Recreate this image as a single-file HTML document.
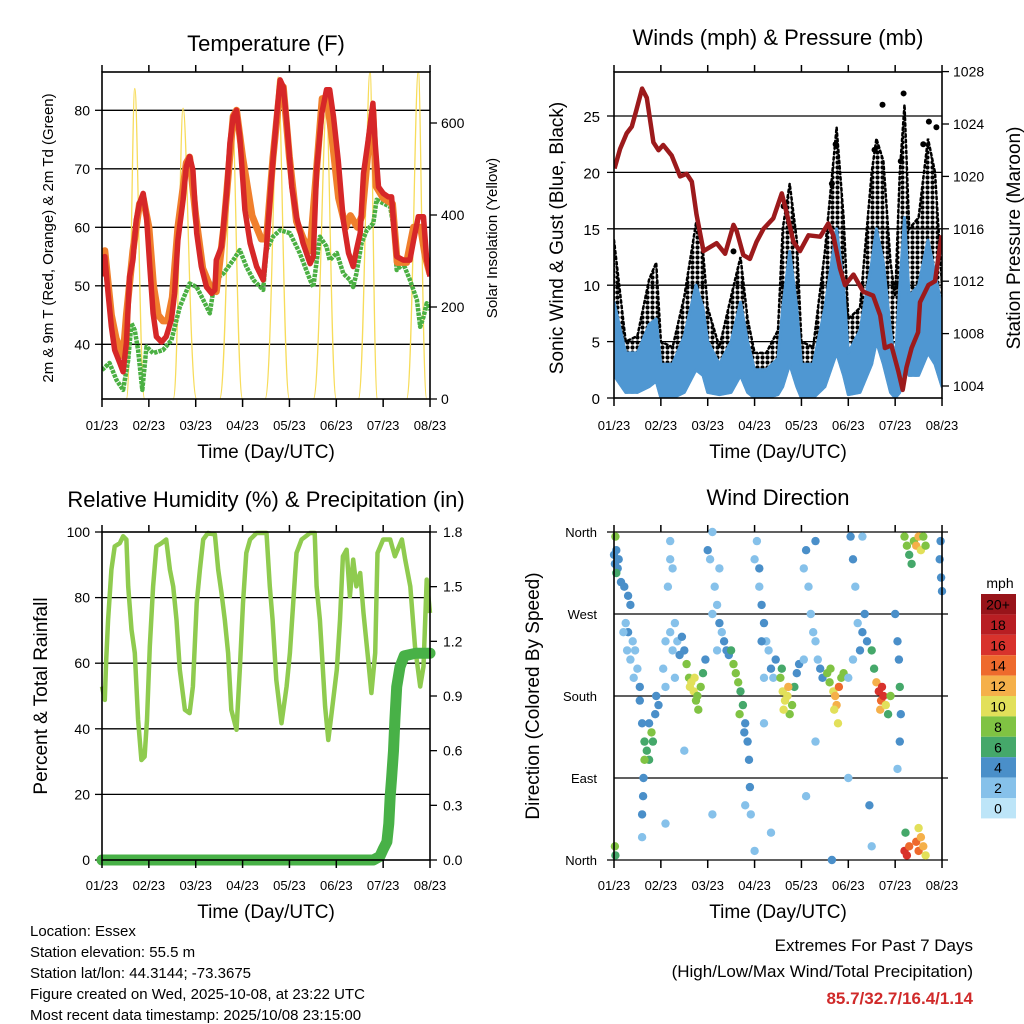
<!DOCTYPE html>
<html><head><meta charset="utf-8">
<style>
html,body{margin:0;padding:0;background:#fff;}
svg{display:block;font-family:"Liberation Sans",Arial,sans-serif;}
</style></head>
<body>
<svg id="fig" width="1024" height="1024" viewBox="0 0 1024 1024" xmlns="http://www.w3.org/2000/svg">
<defs>
<clipPath id="c1"><rect x="102" y="72" width="328" height="327"/></clipPath>
<clipPath id="c2"><rect x="614" y="72" width="328" height="326"/></clipPath>
<clipPath id="c3"><rect x="96" y="526" width="340" height="340"/></clipPath>
<clipPath id="c4"><rect x="608" y="526" width="340" height="340"/></clipPath>
<pattern id="dots" width="5" height="5" patternUnits="userSpaceOnUse"><circle cx="2.5" cy="2.5" r="2.1" fill="#000"/></pattern>
</defs>
<g font-size="22" fill="#000">
<text x="266" y="51" text-anchor="middle">Temperature (F)</text>
<text x="778" y="45" text-anchor="middle">Winds (mph) &amp; Pressure (mb)</text>
<text x="266" y="507" text-anchor="middle">Relative Humidity (%) &amp; Precipitation (in)</text>
<text x="778" y="505" text-anchor="middle">Wind Direction</text>
</g>
<g font-size="19">
<text x="266" y="458" text-anchor="middle">Time (Day/UTC)</text>
<text x="778" y="458" text-anchor="middle">Time (Day/UTC)</text>
<text x="266" y="918" text-anchor="middle">Time (Day/UTC)</text>
<text x="778" y="918" text-anchor="middle">Time (Day/UTC)</text>
<text transform="translate(563,238) rotate(-90)" text-anchor="middle">Sonic Wind &amp; Gust (Blue, Black)</text>
<text transform="translate(1020,238) rotate(-90)" text-anchor="middle">Station Pressure (Maroon)</text>
<text transform="translate(47,696) rotate(-90)" text-anchor="middle">Percent &amp; Total Rainfall</text>
<text transform="translate(539,696) rotate(-90)" text-anchor="middle">Direction (Colored By Speed)</text>
</g>
<g font-size="15">
<text transform="translate(53,238) rotate(-90)" text-anchor="middle">2m &amp; 9m T (Red, Orange) &amp; 2m Td (Green)</text>
<text transform="translate(497,238) rotate(-90)" text-anchor="middle">Solar Insolation (Yellow)</text>
</g>
<g font-size="15">
<text x="30" y="936">Location: Essex</text>
<text x="30" y="957">Station elevation: 55.5 m</text>
<text x="30" y="978">Station lat/lon: 44.3144; -73.3675</text>
<text x="30" y="999">Figure created on Wed, 2025-10-08, at 23:22 UTC</text>
<text x="30" y="1020">Most recent data timestamp: 2025/10/08 23:15:00</text>
</g>
<g font-size="17" text-anchor="end">
<text x="973" y="951">Extremes For Past 7 Days</text>
<text x="973" y="977">(High/Low/Max Wind/Total Precipitation)</text>
<text x="973" y="1004" fill="#d02a2a" font-weight="bold">85.7/32.7/16.4/1.14</text>
</g>
<g id="plots"></g>
</svg>
<script>
// ---------- DATA ----------
const dayLabels=["01/23","02/23","03/23","04/23","05/23","06/23","07/23","08/23"];
const tempTicks=[40,50,60,70,80];
const solarTicks=[0,200,400,600];
const windTicks=[0,5,10,15,20,25];
const presTicks=[1004,1008,1012,1016,1020,1024,1028];
const rhTicks=[0,20,40,60,80,100];
const precipTicks=["0.0","0.3","0.6","0.9","1.2","1.5","1.8"];
const dirLabels=["North","East","South","West","North"];
const speedBins=["0","2","4","6","8","10","12","14","16","18","20+"];

const redT=[0,.06,.13,.2,.27,.38,.45,.52,.59,.66,.73,.8,.88,.95,1.02,1.09,1.16,1.27,1.37,1.48,1.55,1.62,1.73,1.8,1.87,1.94,2.02,2.12,2.23,2.34,2.41,2.44,2.55,2.66,2.73,2.8,2.87,2.94,3.05,3.16,3.3,3.44,3.51,3.62,3.72,3.8,3.87,3.94,4.05,4.15,4.29,4.44,4.51,4.58,4.69,4.79,4.86,4.94,5.04,5.15,5.26,5.36,5.43,5.51,5.58,5.68,5.78,5.83,5.9,6.0,6.11,6.18,6.23,6.29,6.43,6.57,6.65,6.75,6.86,6.93,7.0];
const redV=[51.6,55,48.7,43,39,36.8,35.3,40.2,51.6,54.4,61.2,64.1,65.8,61.8,53.3,45.3,41.3,40.4,41.3,44.2,48.7,57.8,64.7,70.4,72.1,69.8,59,53.3,49.8,48.7,49.3,54.4,56.7,65.8,74.4,78.9,80,75.5,63,57.3,53.3,51,56.7,68.6,78.3,85.2,84,78.3,66.9,61.8,57.3,53.8,55,69.8,79.5,83.5,83.5,78.9,71.5,61.2,55.6,53.3,56.1,59,69.2,74.9,81.2,74.4,66.9,65.8,65.2,65.2,60.1,55,54.4,54.4,57.8,61.8,61.8,54.4,51.6];
const orangeT=[0,.06,.2,.3,.45,.52,.66,.8,.88,1.0,1.1,1.2,1.3,1.4,1.5,1.62,1.8,1.87,2.0,2.15,2.3,2.44,2.6,2.8,2.87,3.0,3.2,3.4,3.51,3.65,3.8,3.87,4.0,4.15,4.3,4.44,4.55,4.7,4.8,4.9,5.05,5.2,5.3,5.45,5.55,5.7,5.78,5.85,6.0,6.2,6.3,6.5,6.65,6.8,6.9,7.0];
const orangeV=[53,56,45,41,38,45,56,64,65,60,50,45,44,44,48,60,71,72,62,53,50,49,60,79,80,72,62,58,58,72,84,84,72,61,58,56,67,82,82,76,65,60,62,60,62,75,80,67,65,64,54,54,60,60,55,52];
const dewT=[0,.16,.31,.45,.56,.63,.7,.77,.86,.95,1.09,1.3,1.48,1.66,1.87,2.02,2.16,2.3,2.41,2.59,2.8,2.94,3.08,3.23,3.44,3.51,3.65,3.8,4.01,4.22,4.44,4.51,4.65,4.79,4.86,5.01,5.15,5.29,5.36,5.43,5.54,5.65,5.79,5.86,6.0,6.15,6.22,6.29,6.43,6.57,6.72,6.79,6.86,6.93,7.0];
const dewV=[35.6,36.8,33.9,32.2,37.3,43.6,42.4,39,32.2,39.6,38.5,39,40.7,46.4,50.4,49.8,47.6,45.3,51,52.1,54.4,56.1,53.3,51,49.3,56.1,58.4,59.5,59,55.6,51,49.8,58.4,56.7,54.4,55.6,52.1,51,49.8,52.1,57.3,59.5,60.7,64.7,64.1,63.5,60.1,52.7,53.8,51,47.6,43,44.7,47,45.9];
const solarRise=[.52,1.52,2.51,3.48,4.51,5.47,6.5];
const solarPeakT=[.70,1.73,2.78,3.76,4.79,5.72,6.75];
const solarSet=[.91,2.02,3.0,4.0,5.0,5.88,6.93];
const solarPeak=[675,632,621,700,630,712,712];

const presT=[.01,.13,.27,.38,.48,.6,.7,.84,.95,1.05,1.23,1.41,1.55,1.66,1.76,1.91,2.05,2.19,2.37,2.55,2.62,2.76,2.9,3.04,3.19,3.4,3.58,3.68,3.83,3.97,4.15,4.4,4.57,4.68,4.82,4.93,5.11,5.32,5.53,5.68,5.78,5.92,6.07,6.16,6.24,6.35,6.49,6.53,6.71,6.85,6.99];
const presV=[1020.6,1022.1,1023.3,1023.8,1025.1,1026.7,1026,1022.6,1022,1022.4,1021.6,1020,1020.2,1019.6,1017.1,1014.3,1014.6,1014.9,1014.1,1016.3,1015.8,1014,1013.7,1015,1016,1016.8,1018.7,1017.3,1015,1014.3,1015.5,1015.4,1016.4,1015.5,1013,1011.7,1012.5,1011.2,1010.9,1009.4,1006.9,1007.1,1005.1,1003.7,1005.4,1006.9,1008.1,1010.4,1011.7,1012,1015.5];
const windT=[0,.25,.5,.75,.9,1.0,1.25,1.5,1.75,1.9,2.0,2.25,2.5,2.7,2.85,3.0,3.25,3.5,3.6,3.75,3.9,4.0,4.25,4.5,4.75,4.9,5.0,5.25,5.5,5.6,5.75,5.9,6.0,6.1,6.2,6.3,6.5,6.7,6.85,7.0];
const windHi=[8.5,4,4,6.5,7,3,3,5.5,10,8,5,3,5,8.5,5,2.5,2.5,3.5,8,13,8,3,3,8,15,10,4,6,12,15,12,6,3,10,16,9,10,14,11,8];
const windLo=[2,.5,.5,1,1.5,0,0,.5,2.5,2,.5,.3,.5,2,.5,0,0,.3,1,3,1,0,0,1,4,2,.3,.5,3,5,3,.5,0,.5,3,2,2,4,3,1];
const gustHi=[14,5,5.5,10.5,12,5,4.5,9,15.5,13,8,4.5,9,12.5,7,4,4,6,15,19,14,5,4.5,13,24,16,7,8,20,23,21,12,9,20,26,15,16,23,20,10];
const gustOutT=[4.73,5.56,5.73,6.12,6.18,6.6,6.72,6.88,2.55,3.62,4.65];
const gustOutV=[22.5,22,26,21,27,22.5,24.5,24,13,17,19];

const rhT=[0,.06,.09,.13,.2,.27,.38,.45,.52,.56,.63,.7,.77,.84,.91,.96,1.02,1.09,1.16,1.27,1.37,1.45,1.52,1.59,1.66,1.77,1.87,1.94,2.02,2.09,2.16,2.26,2.41,2.48,2.55,2.62,2.69,2.76,2.87,2.94,3.01,3.08,3.16,3.3,3.51,3.58,3.64,3.72,3.83,3.94,4.01,4.08,4.15,4.26,4.44,4.54,4.58,4.65,4.76,4.83,4.9,5.01,5.08,5.14,5.22,5.29,5.36,5.43,5.51,5.58,5.68,5.75,5.83,5.88,6.0,6.15,6.25,6.4,6.47,6.58,6.68,6.79,6.86,6.93,7.0];
const rhV=[52.9,48.8,61,73.2,88.5,95.6,96.6,98.7,97.7,83.4,70.2,63.1,42.7,30.5,31.5,42.7,65.1,83.4,95.6,96.6,97.7,88.5,83.4,73.2,58,45.8,44.8,52.9,78.3,88.5,97.7,99.7,99.2,88.5,81.4,73.2,63.1,45.8,39.7,58,78.3,93.6,97.7,99.7,99.7,83.4,73.2,54.9,41.7,52.9,63.1,78.3,93.6,97.7,99.7,99.7,83.4,73.2,46.8,36.6,44.8,58,73.2,92.6,94.6,80.4,91.6,83.4,87.5,75.3,61,50.9,63.1,93.6,97.7,97.7,92.6,97.7,91.6,83.4,65.1,52.9,59,85.5,75.3];
const precipT=[0,1,2,3,4,5,5.79,5.93,6.0,6.08,6.12,6.15,6.18,6.22,6.25,6.29,6.36,6.45,6.7,7.0];
const precipV=[0,0,0,0,0,0,0,.02,.06,.1,.2,.35,.45,.6,.77,.95,1.06,1.12,1.135,1.135];

const dirT=[0,.02,.05,.08,.1,.03,.05,.02,.03,.15,.22,.3,.35,.25,.3,.4,.45,.35,.2,.28,.5,.42,.55,.55,.6,.65,.7,.75,.8,.83,.88,.9,.63,.62,.6,.65,.75,.95,1.05,1.1,1.2,1.25,1.3,1.35,1.15,1.2,1.2,1.25,1.1,1.3,1.4,1.45,1.5,1.55,1.6,1.65,1.7,1.75,1.8,1.85,1.9,1.95,1.62,1.72,1.78,2.05,2.1,2.15,2.2,2.25,2.3,2.35,2.2,2.4,2.1,2.25,2.45,2.0,2.5,2.55,2.6,2.65,2.7,2.75,2.8,2.85,2.88,2.9,2.92,2.68,2.78,3.0,3.05,3.1,3.15,3.2,3.25,3.3,3.35,3.15,3.1,3.4,3.45,3.2,3.55,3.6,3.65,3.7,3.75,3.8,3.85,3.9,3.95,3.58,3.72,3.62,4.05,4.1,4.15,4.2,4.25,4.3,4.35,4.4,4.05,4.3,4.45,4.55,4.6,4.68,4.72,4.75,4.8,4.7,4.62,4.85,4.9,4.78,5.05,5.1,5.15,5.2,5.25,5.3,5.35,5.4,5.0,5.1,5.3,5.5,5.55,5.6,5.65,5.7,5.75,5.68,5.8,5.85,5.9,5.72,6.0,6.05,6.08,6.1,6.12,6.1,6.05,6.2,6.25,6.3,6.35,6.4,6.45,6.5,6.55,6.6,6.65,6.2,6.25,6.3,6.45,6.5,6.55,6.6,6.65,6.22,6.5,6.95,6.98,7.0,6.97,.6,1.1,2.1,2.8,3.35,3.0,4.1,4.65,5.0,5.45,5.5,1.5,4.3,3.2];
const dirV=[335,325,340,320,330,355,315,15,5,305,300,290,280,260,250,240,230,220,250,230,210,200,190,175,150,130,120,110,140,130,160,180,90,70,50,110,150,170,210,240,250,230,260,240,300,330,350,320,190,200,225,245,230,215,200,195,185,175,165,190,205,220,190,200,180,330,360,300,280,260,250,240,230,230,270,320,225,340,230,215,205,195,185,170,150,130,110,80,50,160,140,330,350,300,280,260,240,230,210,240,320,200,220,200,200,185,175,180,160,170,190,205,215,210,190,165,320,340,300,270,250,240,220,210,220,350,200,205,195,185,180,170,190,165,210,200,205,150,355,330,300,260,230,250,270,240,200,220,355,230,210,195,185,175,180,165,170,160,180,190,270,240,220,190,160,130,100,355,345,335,325,350,345,355,340,355,345,10,5,15,20,10,25,15,5,30,35,330,310,295,350,25,40,50,60,30,10,70,0,90,60,15,120,130,150];
const dirS=[4,4,4,3,4,7,6,7,6,3,3,4,3,2,3,2,2,1,2,2,2,1,3,4,4,5,6,5,7,6,4,4,4,4,3,7,4,3,1,2,1,2,2,2,1,1,2,1,2,1,3,4,4,7,8,9,10,8,7,8,6,4,10,9,8,2,1,2,2,3,2,3,1,4,2,1,4,4,5,7,8,7,6,5,4,4,3,3,2,8,4,1,1,2,3,3,2,2,3,3,3,2,3,1,7,10,9,10,8,7,6,4,3,6,11,9,1,3,2,2,1,1,2,4,1,3,4,8,7,10,12,11,13,9,8,8,7,10,3,4,2,2,3,4,4,4,1,2,2,6,6,12,15,14,16,12,10,6,7,16,4,4,4,5,4,3,2,8,7,5,6,8,11,12,10,8,7,15,16,13,14,14,12,11,9,6,10,4,4,3,4,2,1,2,1,2,1,1,3,1,3,2,1,1,1];
const speedColors=["#bde5f8","#86c1ea","#4a8fc9","#45a86a","#80c343","#e2e05a","#f5b04a","#ee6a2d","#d8322c","#b81e23","#98141a"];

// ---------- HELPERS ----------
const NS="http://www.w3.org/2000/svg";
const root=document.getElementById("plots");
function mk(tag,attrs,parent,name,inter){
  const el=document.createElementNS(NS,tag);
  for(const k in attrs) el.setAttribute(k,attrs[k]);
  
  
  (parent||root).appendChild(el);
  return el;
}
function txt(x,y,s,anchor,size,name,parent){
  const el=mk("text",{x:x,y:y,"text-anchor":anchor,"font-size":size},parent,name,false);
  el.textContent=s;
  return el;
}
function pathFrom(ts,vs,fx,fy){
  let d="";
  for(let i=0;i<ts.length;i++) d+=(i?"L":"M")+fx(ts[i]).toFixed(1)+","+fy(vs[i]).toFixed(1);
  return d;
}
function frame(x0,y0,x1,y1,name){
  mk("rect",{x:x0,y:y0,width:x1-x0,height:y1-y0,fill:"none",stroke:"#000","stroke-width":1.6},null,name,false);
}
function dayAxis(fx,yTop,yBot,labelY,name){
  for(let i=0;i<dayLabels.length;i++){
    const x=fx(i);
    mk("line",{x1:x,y1:yBot,x2:x,y2:yBot+8,stroke:"#000","stroke-width":1.5},null,name+"-tick",false);
    mk("line",{x1:x,y1:yTop,x2:x,y2:yTop-7,stroke:"#000","stroke-width":1.5},null,name+"-top-tick",false);
    txt(x,labelY,dayLabels[i],"middle",13,name+"-label");
  }
}

// ---------- PANEL 1: TEMPERATURE ----------
const x1=t=>102+t*46.86;
const yT=v=>110.3+(80-v)*5.85;
const yS=v=>399-v*0.46;
tempTicks.forEach(v=>{
  mk("line",{x1:102,y1:yT(v),x2:430,y2:yT(v),stroke:"#000","stroke-width":1.3},null,"temp-gridline",false);
  mk("line",{x1:95,y1:yT(v),x2:102,y2:yT(v),stroke:"#000","stroke-width":1.3},null,"temp-ytick",false);
  txt(90,yT(v)+5,String(v),"end",14,"temp-ytick-label");
});
solarTicks.forEach(v=>{
  mk("line",{x1:430,y1:yS(v),x2:437,y2:yS(v),stroke:"#000","stroke-width":1.3},null,"solar-ytick",false);
  txt(441,yS(v)+5,String(v),"start",14,"solar-ytick-label");
});
const g1=mk("g",{"clip-path":"url(#c1)"},null,"temperature-plot-area",false);
for(let i=0;i<solarRise.length;i++){
  const xr=x1(solarRise[i]),xp=x1(solarPeakT[i]),xs=x1(solarSet[i]),y0=yS(0),yp=yS(solarPeak[i]);
  const d="M"+xr+","+y0+"C"+(xr+0.5*(xp-xr))+","+y0+" "+(xp-0.3*(xp-xr))+","+yp+" "+xp+","+yp+"C"+(xp+0.3*(xs-xp))+","+yp+" "+(xs-0.5*(xs-xp))+","+y0+" "+xs+","+y0;
  mk("path",{d:d,fill:"none",stroke:"#f7dc5a","stroke-width":1.3},g1,"solar-insolation-line",false);
}
mk("path",{d:pathFrom(dewT,dewV,x1,yT),fill:"none",stroke:"#4bb043","stroke-width":4.5,"stroke-linejoin":"round","stroke-dasharray":"3.5 1"},g1,"dewpoint-line",false);
mk("path",{d:pathFrom(orangeT,orangeV,x1,yT),fill:"none",stroke:"#f07f2c","stroke-width":7,"stroke-linejoin":"round"},g1,"temp-9m-line",false);
mk("path",{d:pathFrom(redT,redV,x1,yT),fill:"none",stroke:"#d62728","stroke-width":5.5,"stroke-linejoin":"round"},g1,"temp-2m-line",false);
frame(102,72,430,399,"temperature-frame");
dayAxis(x1,72,399,430,"temp-xtick");

// ---------- PANEL 2: WINDS ----------
const x2=t=>614+t*46.86;
const yW=v=>398-v*11.28;
const yP=v=>386-(v-1004)*13.1;
windTicks.forEach(v=>{
  if(v>0) mk("line",{x1:614,y1:yW(v),x2:942,y2:yW(v),stroke:"#000","stroke-width":1.3},null,"wind-gridline",false);
  mk("line",{x1:607,y1:yW(v),x2:614,y2:yW(v),stroke:"#000","stroke-width":1.3},null,"wind-ytick",false);
  txt(600,yW(v)+6,String(v),"end",15,"wind-ytick-label");
});
presTicks.forEach(v=>{
  mk("line",{x1:942,y1:yP(v),x2:949,y2:yP(v),stroke:"#000","stroke-width":1.3},null,"pressure-ytick",false);
  txt(953,yP(v)+5,String(v),"start",14,"pressure-ytick-label");
});
const g2=mk("g",{"clip-path":"url(#c2)"},null,"winds-plot-area",false);
{
  let d="M"+x2(windT[0]).toFixed(1)+","+yW(gustHi[0]).toFixed(1);
  for(let i=1;i<windT.length;i++) d+="L"+x2(windT[i]).toFixed(1)+","+yW(gustHi[i]).toFixed(1);
  for(let i=windT.length-1;i>=0;i--) d+="L"+x2(windT[i]).toFixed(1)+","+yW(windLo[i]).toFixed(1);
  d+="Z";
  mk("path",{d:d,fill:"url(#dots)",stroke:"#000","stroke-width":2.5,"stroke-dasharray":"2.5 3","stroke-linecap":"round"},g2,"gust-dots-band",false);
  for(let i=0;i<gustOutT.length;i++) mk("circle",{cx:x2(gustOutT[i]),cy:yW(gustOutV[i]),r:3,fill:"#000"},g2,"gust-dot",false);
  let b="M"+x2(windT[0]).toFixed(1)+","+yW(windHi[0]).toFixed(1);
  for(let i=1;i<windT.length;i++) b+="L"+x2(windT[i]).toFixed(1)+","+yW(windHi[i]).toFixed(1);
  for(let i=windT.length-1;i>=0;i--) b+="L"+x2(windT[i]).toFixed(1)+","+yW(windLo[i]).toFixed(1);
  b+="Z";
  mk("path",{d:b,fill:"#4f97d2",stroke:"#4f97d2","stroke-width":3,"stroke-linejoin":"round"},g2,"wind-speed-band",false);
}
mk("path",{d:pathFrom(presT,presV,x2,yP),fill:"none",stroke:"#9c1a1c","stroke-width":4.5,"stroke-linejoin":"round"},g2,"pressure-line",false);
frame(614,72,942,398,"winds-frame");
dayAxis(x2,72,398,430,"wind-xtick");

// ---------- PANEL 3: RH & PRECIP ----------
const x3=t=>102+t*46.86;
const yR=v=>860-v*3.28;
const yPr=v=>860-v/1.8*328;
rhTicks.forEach(v=>{
  if(v>0&&v<100) mk("line",{x1:102,y1:yR(v),x2:430,y2:yR(v),stroke:"#000","stroke-width":1.3},null,"rh-gridline",false);
  mk("line",{x1:95,y1:yR(v),x2:102,y2:yR(v),stroke:"#000","stroke-width":1.3},null,"rh-ytick",false);
  txt(90,yR(v)+5,String(v),"end",14,"rh-ytick-label");
});
precipTicks.forEach(s=>{
  const v=parseFloat(s);
  mk("line",{x1:430,y1:yPr(v),x2:437,y2:yPr(v),stroke:"#000","stroke-width":1.3},null,"precip-ytick",false);
  txt(443,yPr(v)+5,s,"start",14,"precip-ytick-label");
});
const g3=mk("g",{"clip-path":"url(#c3)"},null,"rh-plot-area",false);
mk("path",{d:pathFrom(rhT,rhV,x3,yR),fill:"none",stroke:"#8fcb4f","stroke-width":4.5,"stroke-linejoin":"round"},g3,"relative-humidity-line",false);
mk("path",{d:pathFrom(precipT,precipV,x3,yPr),fill:"none",stroke:"#48b147","stroke-width":11,"stroke-linejoin":"round","stroke-linecap":"round"},g3,"precipitation-line",false);
frame(102,532,430,860,"rh-frame");
dayAxis(x3,532,860,890,"rh-xtick");

// ---------- PANEL 4: WIND DIRECTION ----------
const x4=t=>614+t*46.86;
const yD=v=>860-v/360*328;
dirLabels.forEach((s,i)=>{
  const v=i*90;
  if(i>0&&i<4) mk("line",{x1:614,y1:yD(v),x2:948,y2:yD(v),stroke:"#000","stroke-width":1.3},null,"dir-gridline",false);
  else mk("line",{x1:607,y1:yD(v),x2:948,y2:yD(v),stroke:"#000","stroke-width":1.3},null,"dir-edge-line",false);
  txt(597,yD(v)+5,s,"end",13,"dir-ytick-label");
});
const g4=mk("g",{"clip-path":"url(#c4)"},null,"direction-plot-area",false);
for(let i=0;i<dirT.length;i++){
  const ci=Math.min(10,Math.floor(dirS[i]/2+0.5));
  mk("circle",{cx:x4(dirT[i]).toFixed(1),cy:yD(dirV[i]).toFixed(1),r:4.2,fill:speedColors[ci]},g4,"direction-point",false);
}
mk("line",{x1:614,y1:532,x2:614,y2:860,stroke:"#000","stroke-width":1.6},null,"dir-left-axis",false);
mk("line",{x1:942,y1:532,x2:942,y2:860,stroke:"#000","stroke-width":1.6},null,"dir-right-axis",false);
dayAxis(x4,532,860,890,"dir-xtick");

// colorbar
txt(1000,588,"mph","middle",14,"colorbar-title");
for(let i=0;i<speedBins.length;i++){
  const k=speedBins.length-1-i;
  const y=594+i*20.4;
  mk("rect",{x:981,y:y,width:35,height:20.4,fill:speedColors[k]},null,"colorbar-swatch",false);
  txt(998,y+15.5,speedBins[k],"middle",14,"colorbar-label");
}
</script>
</body></html>
